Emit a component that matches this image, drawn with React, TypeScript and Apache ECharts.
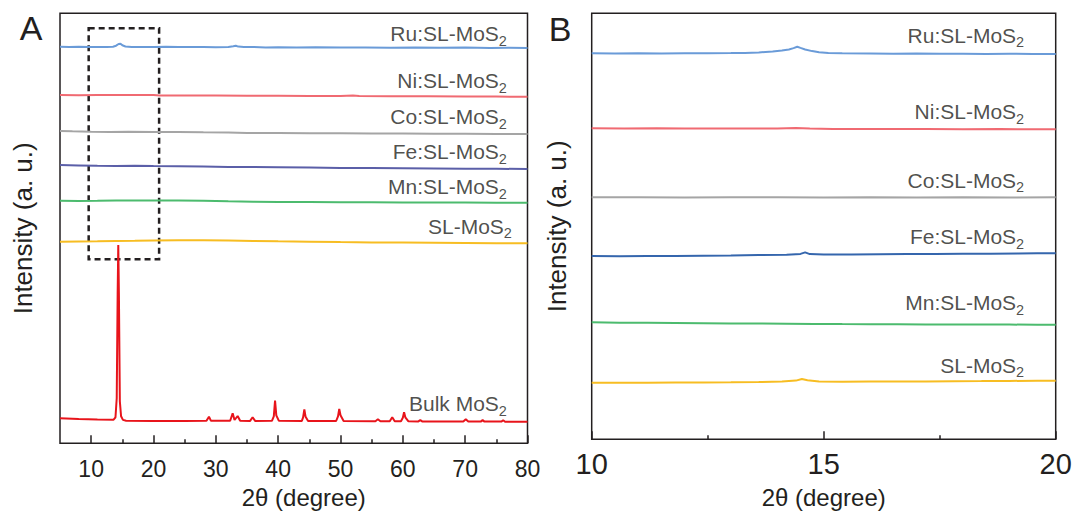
import React, { useEffect, useRef } from "react";
import * as echarts from "echarts";

const FONT = '"Liberation Sans", Arial, Helvetica, sans-serif';
const INK = "#231f20";

// ---------- categories / tick labels ----------
const SAMPLE_NAMES = ["Ru:SL-MoS", "Ni:SL-MoS", "Co:SL-MoS", "Fe:SL-MoS", "Mn:SL-MoS", "SL-MoS"];
const BULK_NAME = "Bulk MoS";
const X_TICKS_A = [10, 20, 30, 40, 50, 60, 70, 80];
const X_MINOR_A = [15, 25, 35, 45, 55, 65, 75];
const X_TICKS_B = [10, 15, 20];
const X_MINOR_B = [12.5, 17.5];
const ZOOM_WINDOW = [9.6, 20.9]; // 2θ range of the dashed box
const ZOOM_INTENSITY = [184, 415];

// ---------- panel A: 2θ 5–80, stacked intensities (a.u.) ----------
const ruA = [[5,396.6],[6.5,396.3],[8,396.5],[9.5,396.2],[11,396.4],[12.5,396.3],[13.5,396.6],[14,397.6],[14.4,399.3],[14.7,399.6],[15,398],[15.5,396.8],[16.5,396.3],[18,396.4],[20,396.2],[22,396.5],[24,396.3],[26,396.2],[28,396.4],[30,396.1],[32,396.3],[32.8,397],[33.2,397.6],[33.6,396.7],[34.5,396.2],[36,396.4],[38,395.9],[40,396.1],[43,395.8],[46,396],[50,395.7],[54,395.9],[58,395.6],[62,395.8],[66,395.5],[70,395.7],[74,395.4],[77,395.5],[80,395.2]];
const niA = [[5,348.3],[8,348.1],[11,348.4],[14,348.2],[17,348.3],[20,348.4],[21,347.9],[25,347.8],[30,347.7],[35,347.6],[40,347.5],[45,347.4],[50,347.3],[52,347.9],[53,347.3],[58,347.1],[64,347],[70,346.9],[75,346.7],[80,346.6]];
const coA = [[5,312.3],[7,312],[10,311.6],[13,311.4],[16,311.5],[20,311.2],[24,311.3],[28,311],[32,310.8],[35,310.4],[40,310.3],[45,310.1],[50,310],[55,309.8],[60,309.9],[65,309.6],[70,309.5],[75,309.4],[80,309.3]];
const feA = [[5,278.3],[8,277.9],[11,277.5],[14,277.4],[17,277.6],[20,277.3],[24,277],[28,276.7],[32,276.4],[36,276.2],[40,276],[45,275.7],[50,275.4],[55,275.2],[60,275],[65,274.8],[70,274.6],[75,274.5],[80,274.3]];
const mnA = [[5,242.6],[8,242.3],[11,242.5],[14,242.8],[17,242.7],[20,242.9],[24,242.7],[28,242.5],[32,242],[36,241.6],[40,241.4],[45,241.2],[50,241.1],[55,241],[60,240.9],[65,240.8],[70,240.7],[75,240.6],[80,240.6]];
const slA = [[5,201.6],[8,201.8],[11,202],[14,202.3],[17,202.5],[20,202.8],[24,203.1],[28,203],[32,202.8],[36,202.4],[40,202],[45,201.6],[50,201.2],[55,200.9],[60,200.7],[65,200.5],[70,200.3],[75,200.1],[80,200]];
const bulkA = [[5,25],[8,24.4],[11,23.9],[13.6,23.6],[13.9,26],[14.1,45],[14.25,150],[14.35,198.3],[14.45,150],[14.6,42],[14.8,27],[15.1,23.4],[15.6,22.6],[20,22.4],[25,22.4],[28.5,22.5],[28.9,26.6],[29.2,22.6],[32.3,22.5],[32.7,30],[33,23.3],[33.5,27.3],[33.9,22.5],[35.5,22.4],[35.9,26],[36.3,22.4],[39,22.5],[39.3,27],[39.5,42.6],[39.7,28],[40.1,22.6],[43.8,22.4],[44,26],[44.2,34],[44.4,26.5],[44.8,22.4],[49.3,22.3],[49.6,27],[49.8,34.3],[50,28],[50.5,22.4],[55.6,22.1],[56,24],[56.4,22.1],[57.9,22],[58.3,26],[58.7,22.1],[59.7,22],[60,25.5],[60.2,31],[60.4,26],[60.9,22],[62.5,21.9],[62.8,23.2],[63.1,21.9],[69.7,21.8],[70.1,24],[70.5,21.8],[72.5,21.7],[72.8,23.2],[73.1,21.7],[75.8,21.7],[76.1,23.1],[76.4,21.6],[80,21.6]];

// ---------- panel B: 2θ 10–20 ----------
const ruB = [[10,386],[10.5,385.9],[11,386.1],[11.5,385.9],[12,386],[12.5,386.1],[13,386.2],[13.3,386.4],[13.6,386.9],[13.9,387.7],[14.1,388.7],[14.25,389.8],[14.35,391.2],[14.43,392.6],[14.5,391.4],[14.6,389.8],[14.75,388.2],[14.9,387],[15.1,386.3],[15.4,386],[16,385.8],[16.5,385.6],[17,385.7],[17.5,385.5],[18,385.6],[18.5,385.4],[19,385.5],[19.5,385.4],[20,385.3]];
const niB = [[10,311],[10.7,310.8],[11.4,311],[12,310.8],[12.7,310.9],[13.3,310.7],[14,310.8],[14.4,311.3],[14.7,310.7],[15.2,310.3],[15.8,310.4],[16.5,310.2],[17.2,310.3],[18,310.1],[18.8,310.2],[19.4,310],[20,310.1]];
const coB = [[10,242],[11,242],[12,241.9],[13,242],[14,242],[15,241.9],[16,242],[17,241.9],[18,242],[19,241.9],[20,242]];
const feB = [[10,183.3],[10.6,183.1],[11.2,183.4],[11.8,183.3],[12.4,183.6],[13,183.8],[13.6,184.2],[14.2,184.6],[14.5,185.4],[14.6,186.9],[14.7,185.2],[15,184.8],[15.6,184.9],[16.2,185.1],[16.8,185.2],[17.4,185.3],[18,185.5],[18.6,185.6],[19.2,185.8],[19.6,186.1],[20,186]];
const mnB = [[10,117],[10.6,116.6],[11.2,116.5],[11.8,116.3],[12.4,116.1],[13,115.9],[13.6,115.8],[14.2,115.6],[14.8,115.4],[15.4,115.2],[16,115.1],[16.6,115],[17.2,114.9],[17.8,114.8],[18.4,114.8],[19,114.7],[19.6,114.6],[20,114.6]];
const slB = [[10,56.6],[10.6,56.5],[11.2,56.6],[11.8,56.7],[12.4,56.8],[13,57],[13.6,57.3],[14.1,57.8],[14.4,58.7],[14.53,60.3],[14.65,59],[14.9,57.9],[15.4,57.6],[16,57.7],[16.6,57.8],[17.2,57.9],[17.8,58.1],[18.4,58.2],[19,58.4],[19.6,58.5],[20,58.6]];

const TRACES_A = [ruA, niA, coA, feA, mnA, slA];
const TRACES_B = [ruB, niB, coB, feB, mnB, slB];

// ---------- styles / label layout ----------
const COLORS_A = ["#6a9bd8", "#f06a72", "#a5a5a5", "#5b5fa8", "#4cbb6e", "#f7bd22"];
const COLORS_B = ["#6a9bd8", "#f06a72", "#a5a5a5", "#3566ad", "#4cbb6e", "#f7bd22"];
const BULK_COLOR = "#e8141b";

const LABEL_X_A = 76.7;
const LABEL_X_B = 19.32;
const LABEL_DX_A = [0, 0, 0, 0, 0, 5, 0];
const LABEL_DY_A = [-14.5, -16, -17.5, -17.5, -16, -17, -18];
const LABEL_DY_B = [-18.8, -17.5, -17, -16.5, -22, -15.5];

const last = (arr: number[][]) => arr[arr.length - 1][1];

const rich = {
  m: { fontSize: 21, fontFamily: FONT, color: INK },
  s: { fontSize: 14.5, fontFamily: FONT, color: INK, padding: [14, 0, 0, 0] },
};

function labelSeries(xIdx: number, yIdx: number, pts: any[]) {
  return {
    type: "scatter",
    xAxisIndex: xIdx,
    yAxisIndex: yIdx,
    symbolSize: 0,
    silent: true,
    data: pts,
    label: {
      show: true,
      position: "left",
      distance: 0,
      formatter: (p: any) => `{m|${p.name}}{s|2}`,
      rich,
    },
  };
}

function xAxes(grid: number, min: number, max: number, major: number[], minor: number[], fs: number, margin: number, nameGap: number, namePad: number[]) {
  return [
    {
      type: "value", gridIndex: grid, min, max, position: "bottom",
      name: "2θ (degree)", nameLocation: "middle", nameGap,
      nameTextStyle: { fontFamily: FONT, fontSize: 24, color: INK, padding: namePad },
      axisLine: { show: false },
      splitLine: { show: false },
      axisTick: { show: true, inside: true, length: 8, customValues: major, lineStyle: { color: INK, width: 1.5 } },
      axisLabel: { show: true, customValues: major, margin, fontFamily: FONT, fontSize: fs, color: INK },
    },
    {
      type: "value", gridIndex: grid, min, max, position: "bottom",
      axisLine: { show: false },
      splitLine: { show: false },
      axisTick: { show: true, inside: true, length: 4, customValues: minor, lineStyle: { color: INK, width: 1.5 } },
      axisLabel: { show: false },
    },
  ];
}

function yAxis(grid: number, max: number, nameGap: number) {
  return {
    type: "value", gridIndex: grid, min: 0, max,
    name: "Intensity (a. u.)", nameLocation: "middle", nameGap,
    nameTextStyle: { fontFamily: FONT, fontSize: 26, color: INK },
    axisLine: { show: false }, axisTick: { show: false }, axisLabel: { show: false }, splitLine: { show: false },
  };
}

export default function App() {
  const ref = useRef<HTMLDivElement>(null);
  useEffect(() => {
    if (!ref.current) return;
    const chart = echarts.init(ref.current, null, { renderer: "svg" });
    const series: any[] = [];
    TRACES_A.forEach((d, i) =>
      series.push({
        type: "line", xAxisIndex: 0, yAxisIndex: 0, data: d, showSymbol: false, silent: true,
        lineStyle: { color: COLORS_A[i], width: 2 }, z: 3,
      })
    );
    series.push({
      type: "line", xAxisIndex: 0, yAxisIndex: 0, data: bulkA, showSymbol: false, silent: true,
      lineStyle: { color: BULK_COLOR, width: 2 }, z: 3,
      markArea: {
        silent: true,
        itemStyle: { color: "rgba(0,0,0,0)", borderColor: INK, borderWidth: 2.5, borderType: [6, 4] },
        data: [[{ coord: [ZOOM_WINDOW[0], ZOOM_INTENSITY[1]] }, { coord: [ZOOM_WINDOW[1], ZOOM_INTENSITY[0]] }]],
      },
    });
    TRACES_B.forEach((d, i) =>
      series.push({
        type: "line", xAxisIndex: 2, yAxisIndex: 1, data: d, showSymbol: false, silent: true,
        lineStyle: { color: COLORS_B[i], width: 2 }, z: 3,
      })
    );
    const ptsA = [...TRACES_A, bulkA].map((d, i) => ({
      name: i < SAMPLE_NAMES.length ? SAMPLE_NAMES[i] : BULK_NAME,
      value: [LABEL_X_A, last(d)],
      label: { offset: [LABEL_DX_A[i], LABEL_DY_A[i]] },
    }));
    const ptsB = TRACES_B.map((d, i) => ({
      name: SAMPLE_NAMES[i],
      value: [LABEL_X_B, last(d)],
      label: { offset: [0, LABEL_DY_B[i]] },
    }));
    series.push(labelSeries(0, 0, ptsA));
    series.push(labelSeries(2, 1, ptsB));

    chart.setOption({
      animation: false,
      backgroundColor: "#ffffff",
      grid: [
        { left: 60, top: 13.3, width: 467.5, height: 430, outerBoundsMode: "none", containLabel: false, show: true, borderColor: INK, borderWidth: 1.5, backgroundColor: "transparent" },
        { left: 591.7, top: 13.3, width: 464, height: 426, outerBoundsMode: "none", containLabel: false, show: true, borderColor: INK, borderWidth: 1.5, backgroundColor: "transparent" },
      ],
      xAxis: [
        ...xAxes(0, 5, 80, X_TICKS_A, X_MINOR_A, 23, 14, 42, [0, 0, 0, 20]),
        ...xAxes(1, 10, 20, X_TICKS_B, X_MINOR_B, 29, 10, 46, [0, 0, 0, 0]),
      ],
      yAxis: [yAxis(0, 430, 24), yAxis(1, 426, 22)],
      graphic: [
        { type: "text", x: 31, y: 28, style: { text: "A", fontFamily: FONT, fontSize: 34, fill: INK, textAlign: "center", textVerticalAlign: "middle" } },
        { type: "text", x: 560, y: 29, style: { text: "B", fontFamily: FONT, fontSize: 34, fill: INK, textAlign: "center", textVerticalAlign: "middle" } },
      ],
      series,
    });
    return () => chart.dispose();
  }, []);
  return <div ref={ref} style={{ position: "fixed", left: 0, top: 0, width: 1074, height: 511 }} />;
}
